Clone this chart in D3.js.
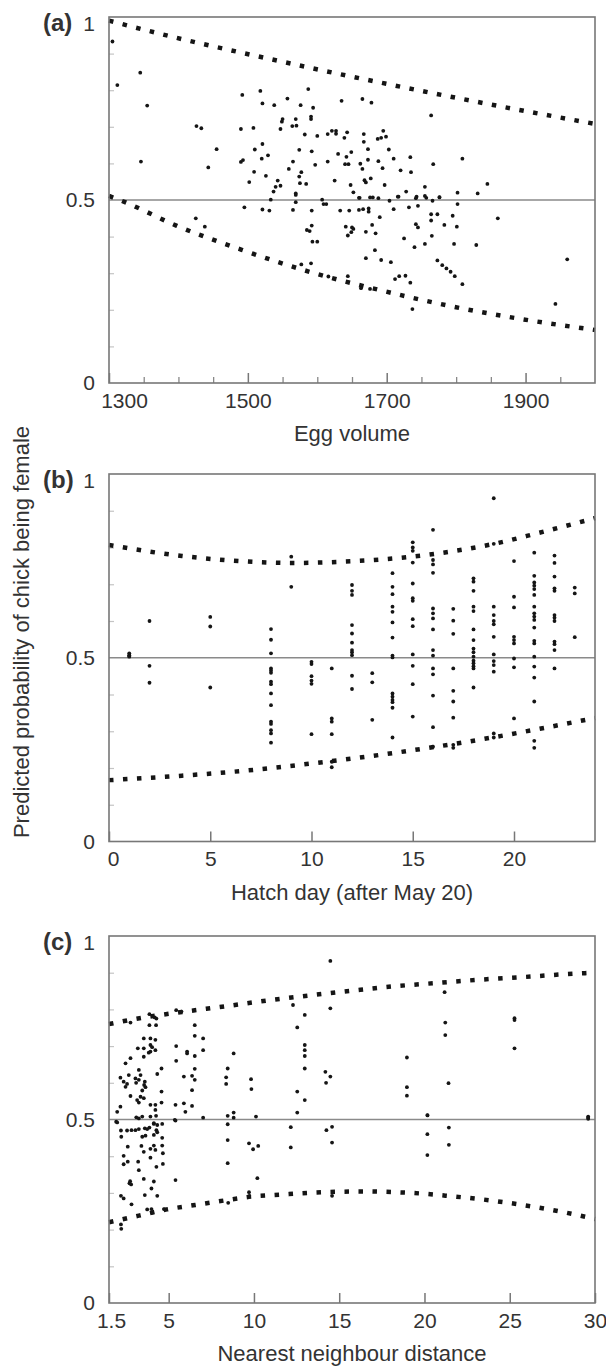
<!DOCTYPE html>
<html>
<head>
<meta charset="utf-8">
<script src="https://cdn.jsdelivr.net/npm/d3@7"></script>
<style>
  body { margin: 0; background: #fff; }
  svg text { font-family: "Liberation Sans", Arial, sans-serif; fill: #333; }
</style>
</head>
<body>
<svg id="fig" width="606" height="1368"></svg>
<script>
// ---- data ----
var yTicks = [0, 0.5, 1];
var yMinor = [0.1, 0.2, 0.3, 0.4, 0.6, 0.7, 0.8, 0.9];

// (a) egg volume
var eggTicks = [1300, 1500, 1700, 1900];
var eggMinor = [1350, 1400, 1450, 1550, 1600, 1650, 1750, 1800, 1850, 1950];
var eggUpper = [[1300,0.99],[1404,0.940],[1504,0.897],[1605,0.855],[1706,0.815],[1806,0.777],[1908,0.740],[2000,0.708]];
var eggLower = [[1300,0.511],[1323,0.494],[1397,0.430],[1494,0.362],[1592,0.302],[1692,0.253],[1792,0.210],[1893,0.175],[2000,0.145]];
var eggPoints = [
  [1305,0.933],[1345,0.848],[1312,0.814],[1355,0.758],[1346,0.605],[1426,0.702],[1433,0.696],[1455,0.639],[1443,0.589],
  [1492,0.787],[1518,0.798],[1521,0.764],[1538,0.759],[1490,0.694],[1508,0.697],[1510,0.638],[1521,0.653],[1520,0.613],
  [1529,0.622],[1490,0.604],[1493,0.609],[1509,0.577],[1502,0.549],[1526,0.566],[1543,0.553],[1547,0.539],[1540,0.536],
  [1537,0.523],[1557,0.777],[1576,0.759],[1587,0.803],[1594,0.752],[1591,0.728],[1591,0.721],[1550,0.721],[1549,0.714],
  [1569,0.721],[1564,0.702],[1570,0.703],[1547,0.694],[1582,0.679],[1600,0.675],[1574,0.637],[1592,0.633],[1565,0.605],
  [1597,0.596],[1559,0.585],[1574,0.564],[1577,0.576],[1575,0.546],[1584,0.544],[1569,0.518],[1615,0.680],[1621,0.689],
  [1627,0.681],[1627,0.689],[1639,0.670],[1643,0.685],[1635,0.771],[1665,0.776],[1678,0.766],[1615,0.605],[1630,0.626],
  [1640,0.598],[1642,0.618],[1645,0.598],[1649,0.631],[1625,0.553],[1648,0.541],[1652,0.521],[1662,0.599],[1665,0.585],
  [1667,0.680],[1667,0.659],[1673,0.639],[1673,0.610],[1668,0.554],[1670,0.548],[1677,0.559],[1660,0.506],[1687,0.667],
  [1692,0.670],[1695,0.689],[1699,0.673],[1688,0.606],[1694,0.587],[1703,0.638],[1710,0.613],[1697,0.541],[1720,0.581],
  [1734,0.617],[1735,0.576],[1728,0.523],[1764,0.731],[1767,0.598],[1809,0.613],[1755,0.536],[1802,0.520],[1831,0.518],
  [1845,0.544],[1676,0.507],[1680,0.507],[1716,0.509],[1743,0.509],[1755,0.511],[1757,0.506],[1776,0.507],[1704,0.498],
  [1688,0.505],
  [1495,0.480],[1521,0.474],[1531,0.471],[1533,0.501],[1565,0.473],[1569,0.494],[1569,0.514],[1592,0.471],[1607,0.501],
  [1609,0.489],[1613,0.489],[1633,0.471],[1646,0.471],[1660,0.473],[1666,0.475],[1674,0.477],[1674,0.468],[1710,0.475],
  [1732,0.480],[1745,0.484],[1766,0.498],[1802,0.489],[1764,0.461],[1773,0.461],[1795,0.457],[1690,0.453],[1585,0.418],
  [1589,0.415],[1592,0.430],[1593,0.386],[1600,0.386],[1641,0.427],[1644,0.403],[1650,0.425],[1652,0.421],[1649,0.412],
  [1670,0.413],[1679,0.432],[1684,0.409],[1742,0.434],[1745,0.425],[1725,0.395],[1764,0.444],[1783,0.432],[1801,0.427],
  [1765,0.402],[1755,0.380],[1740,0.371],[1797,0.380],[1829,0.377],[1860,0.450],[1683,0.363],[1670,0.341],[1692,0.336],
  [1706,0.330],[1773,0.335],[1780,0.322],[1786,0.313],[1792,0.304],[1798,0.292],[1809,0.270],[1712,0.284],[1718,0.292],
  [1727,0.293],[1734,0.274],[1737,0.202],[1960,0.338],[1943,0.216],[1425,0.450],[1438,0.427],[1577,0.324],[1591,0.327],
  [1644,0.292],[1663,0.259],[1676,0.257],[1616,0.291],[1717,0.509],[1742,0.505],[1776,0.508],[1661,0.506]
];

// (b) hatch day
var hatchTicks = [0, 5, 10, 15, 20];
var hatchUpper = [[0,0.807],[3.6,0.777],[7.1,0.761],[9.25,0.758],[11.4,0.761],[14.2,0.771],[17,0.790],[19.1,0.811],[21.1,0.838],[24,0.880]];
var hatchLower = [[0,0.167],[3.6,0.179],[7.16,0.195],[9.96,0.212],[12.76,0.231],[15.56,0.253],[18.4,0.278],[21.1,0.305],[24,0.336]];
var hatchPoints = [
  [1,0.507],[1,0.503],[1,0.512],[1,0.505],
  [2,0.600],[2,0.478],[2,0.432],
  [5,0.611],[5,0.585],[5,0.419],
  [8,0.578],[8,0.549],[8,0.512],[8,0.471],[8,0.465],[8,0.459],[8,0.435],[8,0.428],[8,0.403],[8,0.371],[8,0.326],[8,0.320],[8,0.303],[8,0.294],[8,0.269],
  [9,0.775],[9,0.693],
  [10,0.489],[10,0.483],[10,0.450],[10,0.438],[10,0.429],[10,0.292],
  [11,0.471],[11,0.335],[11,0.326],[11,0.292],[11,0.217],[11,0.202],
  [12,0.698],[12,0.682],[12,0.671],[12,0.589],[12,0.566],[12,0.541],[12,0.521],[12,0.515],[12,0.507],[12,0.451],[12,0.415],
  [13,0.458],[13,0.433],[13,0.331],
  [14,0.730],[14,0.693],[14,0.673],[14,0.639],[14,0.625],[14,0.596],[14,0.555],[14,0.506],[14,0.501],[14,0.403],[14,0.394],[14,0.385],[14,0.379],[14,0.364],[14,0.283],
  [15,0.814],[15,0.800],[15,0.791],[15,0.759],[15,0.702],[15,0.662],[15,0.655],[15,0.605],[15,0.586],[15,0.509],[15,0.478],[15,0.428],[15,0.340],
  [16,0.848],[16,0.766],[16,0.754],[16,0.731],[16,0.634],[16,0.621],[16,0.607],[16,0.577],[16,0.521],[16,0.506],[16,0.471],[16,0.455],[16,0.397],[16,0.311],[16,0.258],
  [17,0.633],[17,0.601],[17,0.565],[17,0.471],[17,0.410],[17,0.381],[17,0.337],[17,0.263],[17,0.255],
  [18,0.716],[18,0.707],[18,0.682],[18,0.639],[18,0.627],[18,0.577],[18,0.548],[18,0.525],[18,0.515],[18,0.503],[18,0.492],[18,0.485],[18,0.477],[18,0.471],[18,0.419],
  [19,0.934],[19,0.810],[19,0.639],[19,0.616],[19,0.600],[19,0.591],[19,0.557],[19,0.509],[19,0.491],[19,0.480],[19,0.462],[19,0.294],[19,0.283],
  [20,0.763],[20,0.666],[20,0.637],[20,0.557],[20,0.548],[20,0.539],[20,0.498],[20,0.474],[20,0.335],
  [21,0.786],[21,0.723],[21,0.705],[21,0.696],[21,0.687],[21,0.671],[21,0.639],[21,0.621],[21,0.612],[21,0.603],[21,0.582],[21,0.546],[21,0.539],[21,0.503],[21,0.476],[21,0.446],[21,0.381],[21,0.274],[21,0.255],
  [22,0.778],[22,0.758],[22,0.721],[22,0.689],[22,0.682],[22,0.616],[22,0.609],[22,0.600],[22,0.544],[22,0.537],[22,0.521],[22,0.471],
  [23,0.691],[23,0.675],[23,0.556]
];

// (c) nearest neighbour distance
var nndTicks = [1.5, 5, 10, 15, 20, 25, 30];
var nndUpper = [[1.5,0.760],[3.29,0.776],[5.79,0.793],[8.25,0.808],[10.73,0.824],[13.23,0.838],[15.73,0.851],[18.23,0.863],[20.73,0.872],[23.25,0.881],[25.75,0.888],[28.27,0.896],[30,0.900]];
var nndLower = [[1.5,0.220],[3.25,0.238],[4.89,0.255],[6.55,0.267],[8.21,0.279],[9.87,0.290],[11.51,0.295],[13.19,0.300],[14.87,0.303],[16.55,0.304],[18.23,0.302],[19.9,0.298],[21.57,0.291],[23.25,0.283],[24.91,0.273],[26.57,0.261],[28.21,0.247],[30,0.229]];
var nndPoints = [
  [14.48,0.932],[21.18,0.847],[12.29,0.812],[14.48,0.803],[12.98,0.785],[21.22,0.764],[25.28,0.776],[25.28,0.771],[21.22,0.730],
  [25.28,0.694],[12.54,0.751],[12.98,0.703],[12.98,0.689],[12.98,0.673],[12.98,0.639],[12.98,0.553],[12.54,0.576],[12.54,0.519],
  [18.97,0.669],[18.97,0.588],[18.97,0.565],[21.41,0.599],[20.18,0.511],[14.19,0.630],[14.48,0.617],[14.23,0.600],[29.6,0.508],
  [29.6,0.502],[8.81,0.680],[8.46,0.639],[8.37,0.615],[8.37,0.597],[9.83,0.610],[9.85,0.583],[8.46,0.510],[8.81,0.519],[10.12,0.508],
  [7.02,0.505],[6.53,0.757],[6.53,0.728],[7.02,0.721],[7.02,0.689],[6.53,0.673],[6.08,0.685],[6.08,0.680],[5.44,0.700],[5.44,0.660],
  [5.89,0.617],[6.37,0.619],[6.53,0.638],[6.53,0.608],[6.37,0.580],[5.4,0.540],[5.89,0.544],[5.98,0.521],[6.37,0.537],[5.4,0.497],
  [5.44,0.798],[5.75,0.794],
  [1.98,0.521],[2.17,0.535],[2.76,0.764],[3.87,0.787],[4.18,0.778],[4.28,0.775],[3.87,0.757],[4.26,0.757],[3.54,0.721],[3.93,0.721],
  [4.22,0.717],[3.19,0.694],[3.54,0.694],[3.93,0.703],[4.03,0.697],[4.22,0.689],[3.93,0.685],[3.83,0.682],[3.54,0.671],[2.76,0.667],
  [2.47,0.653],[4.33,0.624],[4.58,0.639],[2.17,0.614],[2.36,0.603],[2.56,0.597],[2.47,0.589],[2.66,0.621],[3.25,0.635],[3.35,0.621],
  [3.05,0.612],[3.25,0.608],[3.09,0.600],[3.6,0.603],[3.56,0.594],[3.64,0.588],[2.76,0.564],[3.45,0.579],[3.35,0.562],[3.15,0.553],
  [3.25,0.546],[3.54,0.558],[4.58,0.576],[4.58,0.546],[3.93,0.540],[4.22,0.540],[4.22,0.526],[3.1,0.506],[3.25,0.503],[3.45,0.508],
  [3.93,0.508],[4.26,0.510],[1.92,0.494],[4.13,0.490],
  [1.98,0.492],[2.2,0.470],[2.22,0.453],[2.56,0.470],[2.82,0.471],[3.05,0.471],[3.25,0.474],[3.6,0.476],[3.74,0.474],[3.87,0.478],
  [3.45,0.453],[3.64,0.456],[4.13,0.488],[4.33,0.485],[4.28,0.471],[4.62,0.488],[4.13,0.458],[4.33,0.465],[4.62,0.450],[2.6,0.426],
  [3.4,0.428],[3.54,0.412],[4.13,0.429],[4.22,0.417],[3.93,0.420],[4.62,0.429],[4.66,0.408],[2.36,0.401],[2.36,0.378],[2.6,0.385],
  [3.21,0.385],[3.25,0.362],[3.93,0.396],[4.28,0.371],[4.66,0.379],[2.7,0.326],[2.8,0.323],[2.74,0.332],[3.54,0.338],[4.13,0.331],
  [3.99,0.312],[2.2,0.292],[2.36,0.285],[3.6,0.294],[4.33,0.292],[2.82,0.269],[3.74,0.255],[3.99,0.256],[4.03,0.246],[4.72,0.256],
  [2.2,0.214],[2.22,0.202],[5.4,0.335],[5.36,0.499],[8.46,0.487],[8.46,0.444],[8.46,0.381],[8.81,0.505],[9.71,0.435],[9.95,0.419],
  [10.25,0.428],[10.2,0.340],[9.71,0.302],[9.73,0.292],[8.49,0.273],[12.16,0.479],[12.16,0.424],[14.25,0.471],[14.58,0.480],
  [14.58,0.437],[14.58,0.292],[20.17,0.460],[20.17,0.403],[20.17,0.512],[21.43,0.478],[21.43,0.431],[29.6,0.505]
];

// ---- drawing ----
var svg = d3.select("#fig");
var left = 109, right = 595;

var panels = [
  {tag: "(a)", top: 17, bottom: 383, domain: [1300, 2000], ticks: eggTicks, minor: eggMinor,
   title: "Egg volume", points: eggPoints, upper: eggUpper, lower: eggLower, firstDx: 15},
  {tag: "(b)", top: 474, bottom: 841.5, domain: [0, 24], ticks: hatchTicks, minor: [],
   title: "Hatch day (after May 20)", points: hatchPoints, upper: hatchUpper, lower: hatchLower, firstDx: 4},
  {tag: "(c)", top: 936, bottom: 1303, domain: [1.5, 30], ticks: nndTicks, minor: [],
   title: "Nearest neighbour distance", points: nndPoints, upper: nndUpper, lower: nndLower, firstDx: 2}
];

panels.forEach(function(p) {
  var x = d3.scaleLinear().domain(p.domain).range([left, right]);
  var y = d3.scaleLinear().domain([0, 1]).range([p.bottom, p.top]);
  var g = svg.append("g");

  // minor y ticks (inside)
  g.append("g")
      .attr("transform", "translate(" + left + ",0)")
      .call(d3.axisLeft(y).tickValues(yMinor).tickSize(-5).tickFormat(""))
      .call(function(a) { a.select(".domain").remove(); })
      .selectAll("line").attr("stroke", "#c4c4c4").attr("stroke-width", 1.2);

  // x ticks (inside)
  if (p.minor.length) {
    g.append("g")
        .attr("transform", "translate(0," + p.bottom + ")")
        .call(d3.axisBottom(x).tickValues(p.minor).tickSize(-6).tickFormat(""))
        .call(function(a) { a.select(".domain").remove(); })
        .selectAll("line").attr("stroke", "#888").attr("stroke-width", 1.3);
  }
  var xa = g.append("g")
      .attr("transform", "translate(0," + p.bottom + ")")
      .call(d3.axisBottom(x).tickValues(p.ticks).tickSizeInner(-10).tickSizeOuter(0).tickPadding(10).tickFormat(function(d) { return d; }));
  xa.select(".domain").remove();
  xa.selectAll("line").attr("stroke", "#777").attr("stroke-width", 1.5);
  xa.selectAll("text").attr("font-size", 21).attr("fill", "#333");
  xa.selectAll("text").filter(function(d, i) { return i === 0; }).attr("dx", p.firstDx);

  // y labels
  var ya = g.append("g")
      .attr("transform", "translate(" + left + ",0)")
      .call(d3.axisLeft(y).tickValues(yTicks).tickSize(0).tickPadding(14).tickFormat(function(d) { return d; }));
  ya.select(".domain").remove();
  ya.selectAll("text").attr("font-size", 21).attr("fill", "#333")
      .filter(function(d) { return d === 1; }).attr("dy", "0.62em");

  // reference line at 0.5
  g.append("line")
      .attr("x1", left).attr("x2", right)
      .attr("y1", y(0.5)).attr("y2", y(0.5))
      .attr("stroke", "#8a8a8a").attr("stroke-width", 1.5);

  // confidence bands as dotted curves
  var band = d3.line()
      .curve(d3.curveMonotoneX)
      .x(function(d) { return x(d[0]); })
      .y(function(d) { return y(d[1]); });
  [p.upper, p.lower].forEach(function(b) {
    g.append("path")
        .attr("d", band(b))
        .attr("fill", "none")
        .attr("stroke", "#151515")
        .attr("stroke-width", 4.5)
        .attr("stroke-dasharray", "4.5 9.5");
  });

  // data points
  g.append("g").selectAll("circle")
      .data(p.points)
      .enter().append("circle")
        .attr("cx", function(d) { return x(d[0]); })
        .attr("cy", function(d) { return y(d[1]); })
        .attr("r", 1.9)
        .attr("fill", "#151515");

  // frame
  g.append("rect")
      .attr("x", left).attr("y", p.top)
      .attr("width", right - left).attr("height", p.bottom - p.top)
      .attr("fill", "none").attr("stroke", "#777").attr("stroke-width", 1.6);

  // panel tag and x title
  g.append("text")
      .attr("x", 43).attr("y", p.top + 14)
      .attr("font-size", 24).attr("font-weight", "bold").attr("fill", "#333")
      .text(p.tag);
  g.append("text")
      .attr("x", (left + right) / 2).attr("y", p.bottom + 58)
      .attr("text-anchor", "middle").attr("font-size", 22).attr("fill", "#333")
      .text(p.title);
});

// shared y title
svg.append("text")
    .attr("transform", "translate(29,632) rotate(-90)")
    .attr("text-anchor", "middle")
    .attr("font-size", 22)
    .attr("fill", "#333")
    .text("Predicted probability of chick being female");
</script>
</body>
</html>
